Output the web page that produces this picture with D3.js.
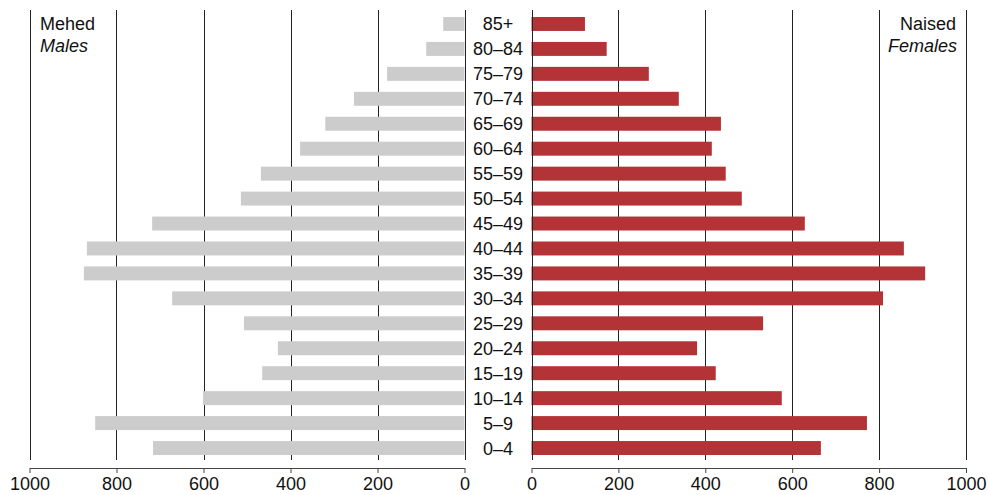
<!DOCTYPE html>
<html><head><meta charset="utf-8">
<script src="https://cdn.jsdelivr.net/npm/d3@7"></script>
<style>body{margin:0;background:#fff}svg{display:block;font-family:"Liberation Sans",Arial,sans-serif}</style>
</head><body><svg id="c" width="989" height="495"></svg>
<script>
const ages = ["85+","80–84","75–79","70–74","65–69","60–64","55–59","50–54","45–49","40–44","35–39","30–34","25–29","20–24","15–19","10–14","5–9","0–4"];
const males = [49,88,178,254,320,378,468,514,718,868,875,672,507,429,465,601,849,716];
const females = [123,173,270,339,436,415,447,484,629,857,906,809,533,381,424,576,772,666];
const ticks = [0,200,400,600,800,1000];

const svg = d3.select("#c");
const y = d3.scaleBand().domain(ages).range([11.5, 460.5]).paddingInner(0.44).paddingOuter(0.22);
const xL = d3.scaleLinear().domain([1000,0]).range([29.5,464.5]);
const xR = d3.scaleLinear().domain([0,1000]).range([531.5,966]);
const gridTop = 10, gridBot = 460, axisY = 468;
const FS = 18;

function panel(x, data, color){
  const g = svg.append("g");
  g.selectAll("line.grid").data(ticks).join("line")
    .attr("x1", d=>Math.round(x(d))+0.5).attr("x2", d=>Math.round(x(d))+0.5)
    .attr("y1", gridTop).attr("y2", gridBot)
    .attr("stroke","#222").attr("stroke-width",1);
  g.selectAll("rect").data(data).join("rect")
    .attr("x", (d)=>Math.min(x(0),x(d)))
    .attr("width", d=>Math.abs(x(d)-x(0)))
    .attr("y", (d,i)=>y(ages[i])).attr("height", y.bandwidth())
    .attr("fill", color);
  const ax = svg.append("g").attr("transform",`translate(0,${axisY})`)
    .call(d3.axisBottom(x).tickValues(ticks).tickFormat(d3.format("d")).tickSize(5).tickPadding(4).tickSizeOuter(0));
  ax.select(".domain").attr("stroke","#444");
  ax.selectAll(".tick line").attr("stroke","#444");
  ax.selectAll("text").attr("font-size",FS).attr("fill","#111").attr("font-family","Liberation Sans, Arial, sans-serif");
  g.append("line").attr("x1",Math.round(x(0))+0.5).attr("x2",Math.round(x(0))+0.5)
    .attr("y1",gridTop).attr("y2",gridBot).attr("stroke","#222");
}
panel(xL, males, "#cccccc");
panel(xR, females, "#b33336");

svg.append("g").selectAll("text").data(ages).join("text")
  .attr("x", 498).attr("y", d=>y(d)+y.bandwidth()/2).attr("dy","0.36em")
  .attr("text-anchor","middle").attr("font-size",FS).attr("fill","#111").text(d=>d);

svg.append("text").attr("x",40).attr("y",29.5).attr("font-size",FS).attr("fill","#111").text("Mehed");
svg.append("text").attr("x",40).attr("y",51.5).attr("font-size",FS).attr("font-style","italic").attr("fill","#111").text("Males");
svg.append("text").attr("x",956).attr("y",29.5).attr("font-size",FS).attr("text-anchor","end").attr("fill","#111").text("Naised");
svg.append("text").attr("x",957).attr("y",51.5).attr("font-size",FS).attr("font-style","italic").attr("text-anchor","end").attr("fill","#111").text("Females");
</script></body></html>
